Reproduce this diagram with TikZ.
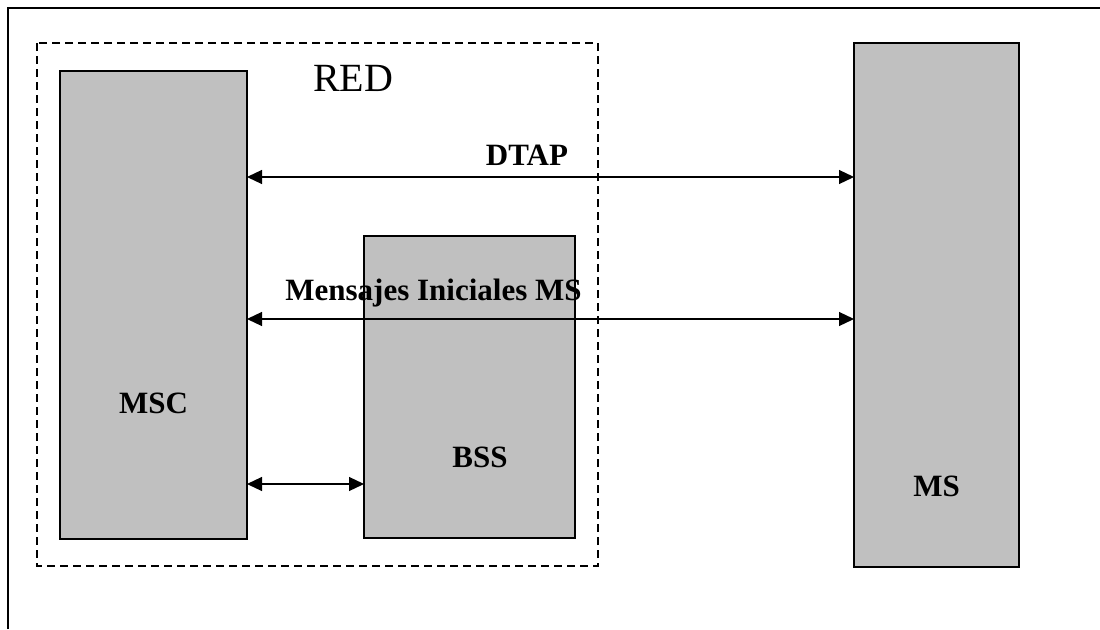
\documentclass[tikz,border=0pt]{standalone}
\usepackage{fontspec}
\setmainfont{Liberation Serif}
\usetikzlibrary{arrows.meta}

\definecolor{boxgray}{RGB}{192,192,192}

\begin{document}
\begin{tikzpicture}[x=1pt,y=-1pt,text centered,
  box/.style={draw=black,fill=boxgray,line width=1.2pt,inner sep=0pt,outer sep=0pt},
  link/.style={line width=1.2pt,{Triangle[length=15pt,width=14pt]}-{Triangle[length=15pt,width=14pt]}},
  lbl/.style={font=\fontsize{31}{31}\selectfont\bfseries,inner sep=0pt}]
  \useasboundingbox (0,0) rectangle (1100,629);

  % outer frame (top and left only)
  \draw[line width=1.3pt] (8,629) -- (8,8) -- (1100,8);

  % network area
  \draw[dashed,dash pattern=on 8pt off 5pt,line width=1.2pt] (37,43) rectangle (598,566);
  \node (RED) at (353,78) [inner sep=0pt,font=\fontsize{40}{40}\selectfont]  {RED};

  \node (msc) at (153.5,305) [box,minimum width=187,minimum height=468] {};
  \node (bss) at (469.5,387) [box,minimum width=211,minimum height=302] {};
  \node (ms) at (936.5,305) [box,minimum width=165,minimum height=524] {};

  \node (msclbl) at (153.5,403) [lbl]  {MSC};
  \node (bsslbl) at (480,457) [lbl]  {BSS};
  \node (mslbl) at (936.5,486) [lbl]  {MS};

  \draw[link] (msc.east |- 0,177) -- (ms.west |- 0,177);
  \node (DTAP) at (527,155) [lbl]  {DTAP};

  \draw[link] (msc.east |- 0,319) -- (ms.west |- 0,319);
  \node (MENS) at (433.5,293) [lbl]  {Mensajes Iniciales MS};

  \draw[link] (msc.east |- 0,484) -- (bss.west |- 0,484);

\end{tikzpicture}
\end{document}
